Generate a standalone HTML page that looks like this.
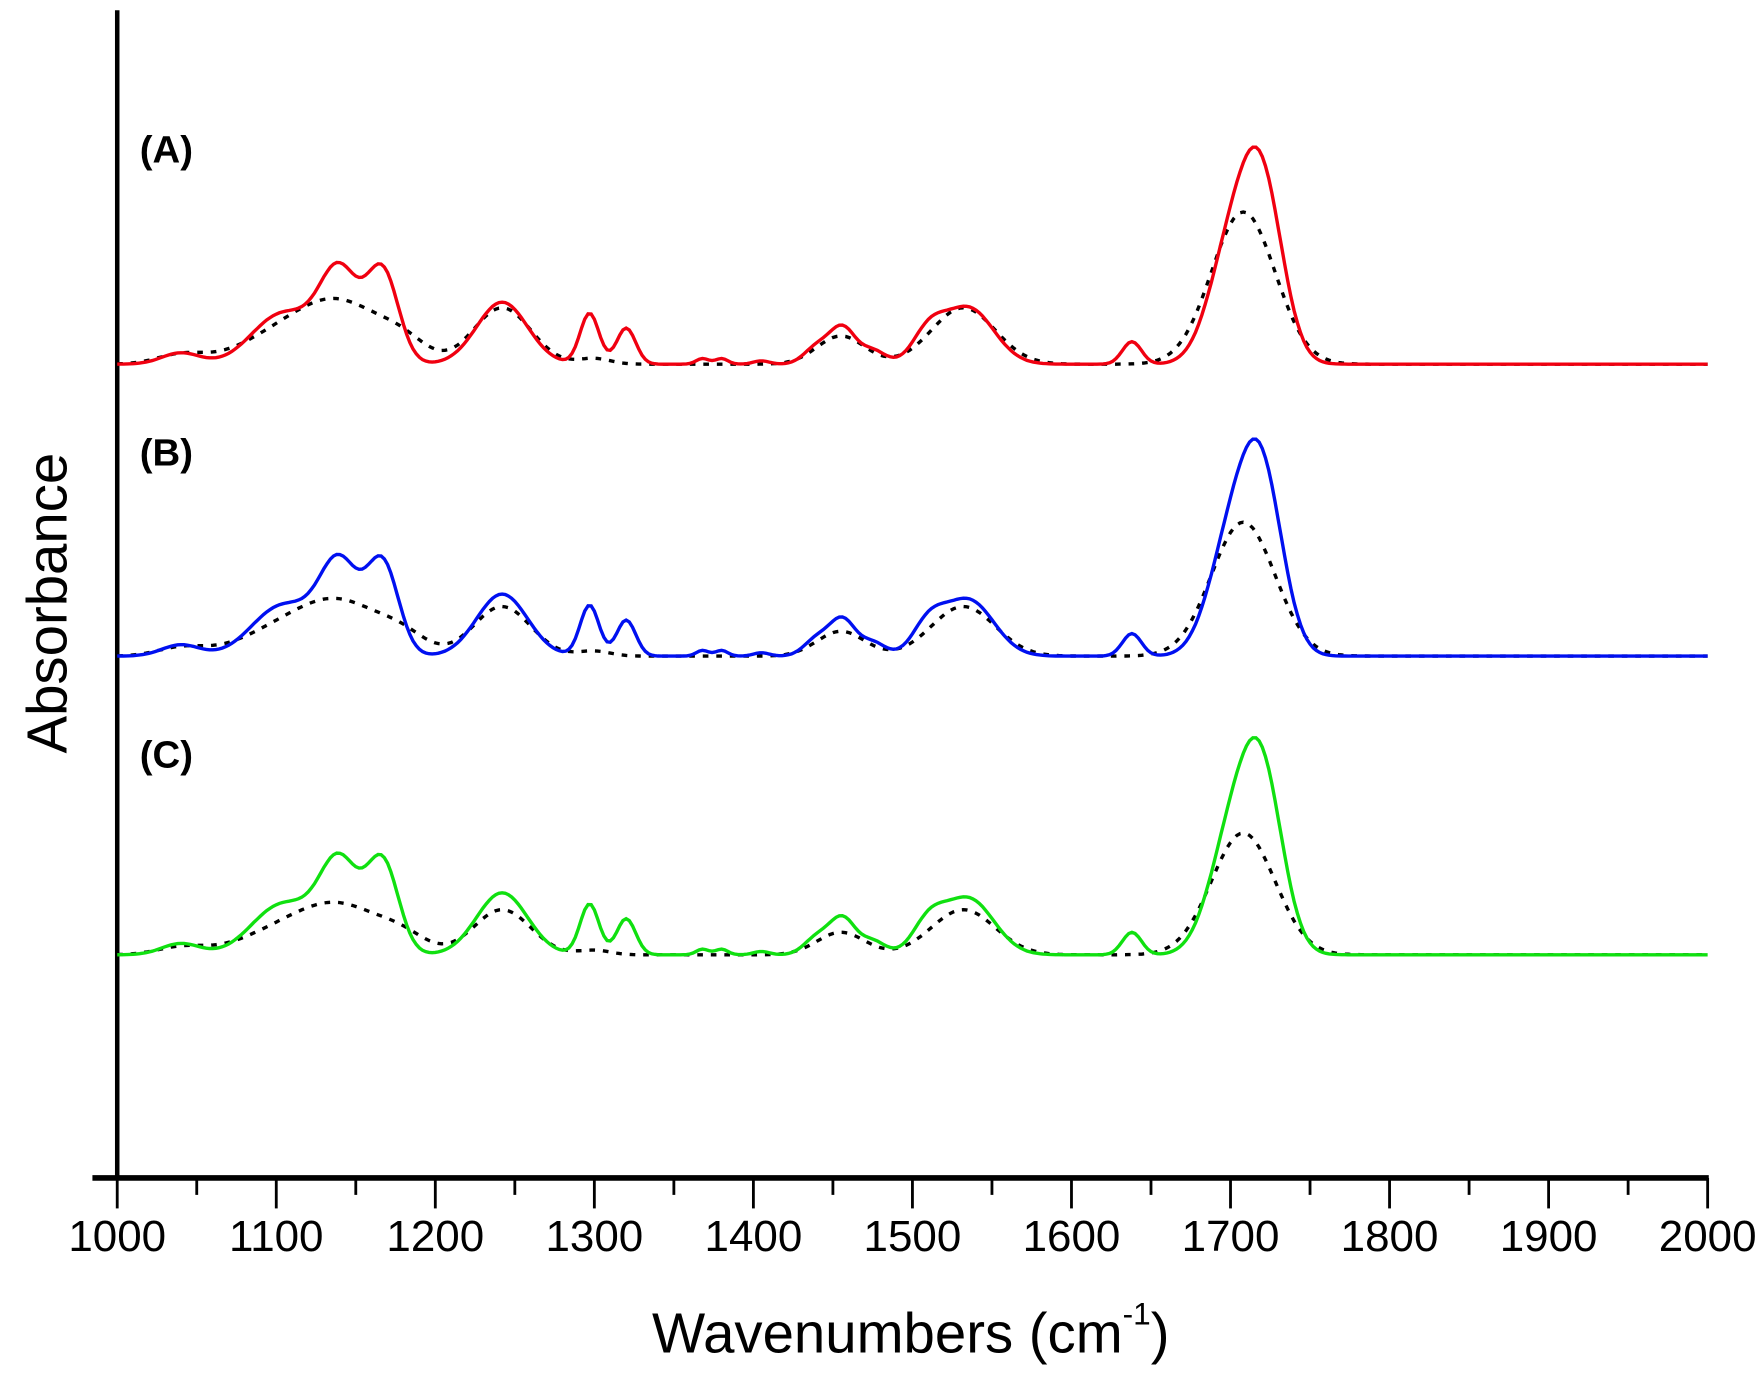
<!DOCTYPE html>
<html><head><meta charset="utf-8"><style>html,body{margin:0;padding:0;background:#fff}svg{display:block}</style></head>
<body>
<svg id="s" width="1764" height="1390" viewBox="0 0 1565 1233" xmlns="http://www.w3.org/2000/svg" font-family="Liberation Sans, sans-serif">
<line x1="104" y1="9" x2="104" y2="1046" stroke="#000" stroke-width="4"/>
<line x1="82" y1="1045" x2="1516" y2="1045" stroke="#000" stroke-width="5"/>
<g id="ticks" stroke="#000" stroke-width="2.5"></g>
<g id="labels" font-size="39" text-anchor="middle" fill="#000"></g>
<text x="808" y="1200" font-size="50" text-anchor="middle">Wavenumbers (cm<tspan font-size="28" dy="-25">-1</tspan><tspan dy="25">)</tspan></text>
<text transform="translate(59,535) rotate(-90)" font-size="50" text-anchor="middle">Absorbance</text>
<text x="124" y="144" font-size="34" font-weight="bold">(A)</text>
<text x="124" y="413" font-size="34" font-weight="bold">(B)</text>
<text x="124" y="681" font-size="34" font-weight="bold">(C)</text>
<g id="curves" fill="none"></g>
</svg>
<script>
var X=function(w){return 104+(w-1000)*1.411;};
var t=document.getElementById('ticks'),l=document.getElementById('labels'),h='',lh='';
for(var w=1000;w<=2000;w+=50){var x=X(w);var maj=w%100==0;h+='<line x1="'+x+'" y1="1045" x2="'+x+'" y2="'+(maj?1072:1060)+'"/>';
if(maj)lh+='<text x="'+x+'" y="1110">'+w+'</text>';}
t.innerHTML=h;l.innerHTML=lh;
var solid=[[1040,10,12],[1100,35,18],[1140,70,12],[1167,80,10],[1125,20,20],[1242,55,16],[1297,45,6],[1320,32,6],[1368,5,4],[1380,5,4],[1405,3,5],[1440,15,8],[1456,32,8],[1475,12,8],[1510,25,10],[1535,50,16],[1638,20,6],[1700,95,14],[1720,150,13]];
var dot=[[1040,8,15],[1110,30,30],[1145,40,25],[1180,15,15],[1242,50,18],[1300,5,10],[1455,25,15],[1532,50,20],[1708,135,20]];
function f(c,w){var s=0;for(var i=0;i<c.length;i++){var d=w-c[i][0];s+=c[i][1]*Math.exp(-d*d/(2*c[i][2]*c[i][2]));}return s;}
function path(c,base,sc){var p='';for(var w=1000;w<=2000;w+=2){p+=(w==1000?'M':'L')+X(w).toFixed(1)+','+(base-sc*f(c,w)).toFixed(1);}return p;}
var sets=[[323,'#f00010',1,1],[582,'#0010f0',1,0.88],[847,'#10e010',1,0.8]],g='';
sets.forEach(function(s){
g+='<path d="'+path(dot,s[0],s[3])+'" stroke="#000" stroke-width="3" stroke-dasharray="5,7"/>';
g+='<path d="'+path(solid,s[0],s[2])+'" stroke="'+s[1]+'" stroke-width="3"/>';});
document.getElementById('curves').innerHTML=g;
</script>
</body></html>
